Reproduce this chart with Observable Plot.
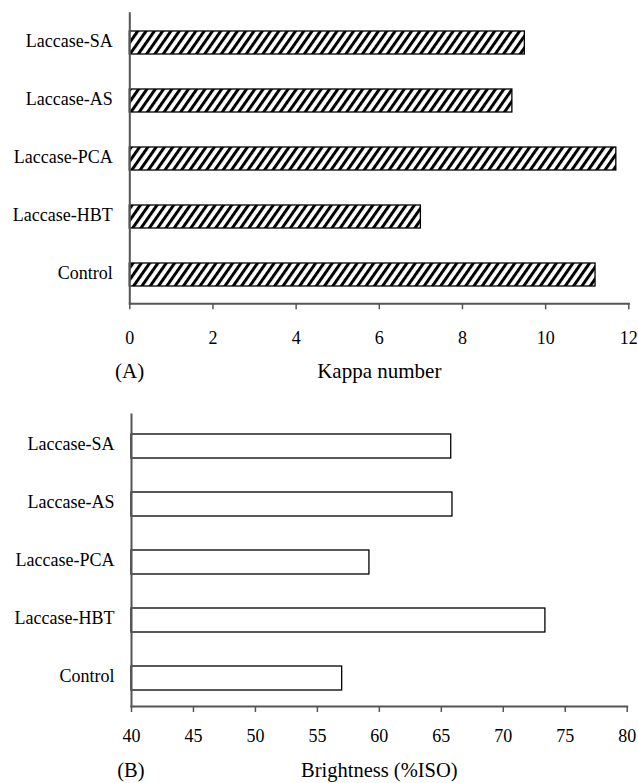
<!DOCTYPE html>
<html><head><meta charset="utf-8">
<script src="https://cdn.jsdelivr.net/npm/d3@7"></script>
<script src="https://cdn.jsdelivr.net/npm/@observablehq/plot@0.6"></script>
<style>
html,body{margin:0;padding:0;background:#fff;}
#chart svg{display:block;}
</style></head><body><div id="chart"></div>
<script>
const categories = ["Laccase-SA","Laccase-AS","Laccase-PCA","Laccase-HBT","Control"];
const kappaValues = [9.5, 9.2, 11.7, 7.0, 11.2];
const brightnessValues = [65.8, 65.9, 59.2, 73.4, 57.0];
const kappaTicks = [0,2,4,6,8,10,12];
const brightnessTicks = [40,45,50,55,60,65,70,75,80];
const brightnessBase = 40;

const kappaData = categories.map((c,i)=>({category:c, value:kappaValues[i]}));
const brightData = categories.map((c,i)=>({category:c, value:brightnessValues[i]}));
const font = "'Liberation Serif', 'Times New Roman', serif";
const axisColor = "#555";

const panelA = Plot.plot({
  width: 638, height: 400,
  marginLeft: 129.3, marginRight: 9.7, marginTop: 12.7, marginBottom: 96.7,
  style: {fontFamily: font, fontSize: "18px", color: "#000", background: "#fff", overflow: "visible"},
  x: {domain: [0, 12]},
  y: {domain: categories, paddingInner: 0.6, paddingOuter: 0.29, align: 0.53},
  marks: [
    Plot.barX(kappaData, {y: "category", x: "value", fill: "url(#hatchA)", stroke: "#000", strokeWidth: 1.3}),
    Plot.frame({anchor: "left", stroke: axisColor, strokeWidth: 2}),
    Plot.frame({anchor: "bottom", stroke: axisColor, strokeWidth: 2}),
    Plot.axisX({ticks: kappaTicks, tickSize: 6, tickPadding: 21, stroke: axisColor, strokeWidth: 1.5, label: null, tickFormat: d => String(d)}),
    Plot.axisY({tickSize: 0, tickPadding: 17, label: null, dy: -2}),
    Plot.text(["Kappa number"], {text: d => d, frameAnchor: "bottom", dy: 74, fontSize: 21}),
    Plot.text(["(A)"], {text: d => d, frameAnchor: "bottom-left", dx: -14.7, dy: 74, fontSize: 21})
  ]
});

const svgA = d3.select(panelA);
const defs = svgA.insert("defs", ":first-child");
const pat = defs.append("pattern")
  .attr("id", "hatchA")
  .attr("patternUnits", "userSpaceOnUse")
  .attr("width", 6.8).attr("height", 6.8)
  .attr("patternTransform", "rotate(35)");
pat.append("rect").attr("width", 6.8).attr("height", 6.8).attr("fill", "#fff");
pat.append("rect").attr("width", 3).attr("height", 6.8).attr("fill", "#000");

const panelB = Plot.plot({
  width: 638, height: 383,
  marginLeft: 131, marginRight: 11.3, marginTop: 14, marginBottom: 77,
  style: {fontFamily: font, fontSize: "18px", color: "#000", background: "#fff", overflow: "visible"},
  x: {domain: [40, 80]},
  y: {domain: categories, paddingInner: 0.59, paddingOuter: 0.287, align: 0.545},
  marks: [
    Plot.barX(brightData, {y: "category", x1: brightnessBase, x2: "value", fill: "#fff", stroke: "#000", strokeWidth: 1.3}),
    Plot.frame({anchor: "left", stroke: axisColor, strokeWidth: 2}),
    Plot.frame({anchor: "bottom", stroke: axisColor, strokeWidth: 2}),
    Plot.axisX({ticks: brightnessTicks, tickSize: 6, tickPadding: 17, stroke: axisColor, strokeWidth: 1.5, label: null, tickFormat: d => String(d)}),
    Plot.axisY({tickSize: 0, tickPadding: 17, label: null, dy: -2}),
    Plot.text(["Brightness (%ISO)"], {text: d => d, frameAnchor: "bottom", dy: 70, fontSize: 20.5}),
    Plot.text(["(B)"], {text: d => d, frameAnchor: "bottom-left", dx: -14.3, dy: 70, fontSize: 20.5})
  ]
});

document.getElementById("chart").append(panelA, panelB);
</script>
</body></html>
